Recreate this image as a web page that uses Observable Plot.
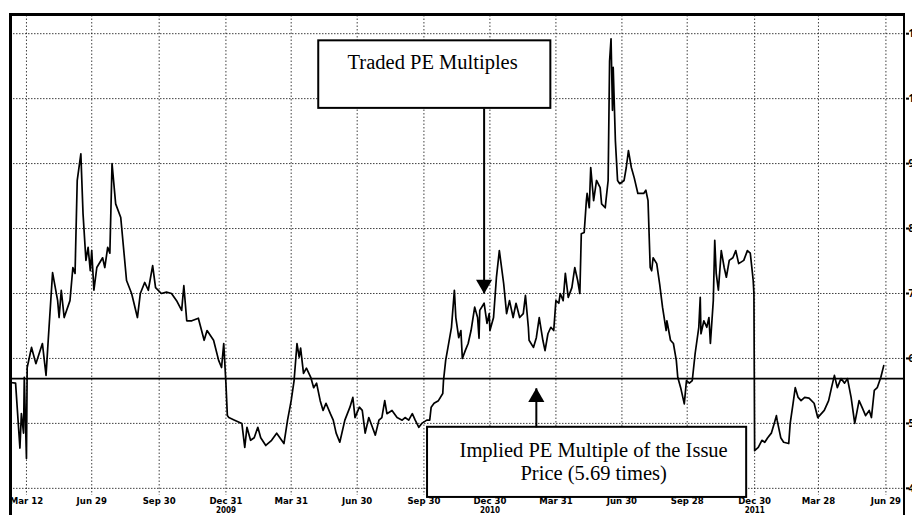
<!DOCTYPE html>
<html>
<head>
<meta charset="utf-8">
<script src="https://cdn.jsdelivr.net/npm/d3@7"></script>
<script src="https://cdn.jsdelivr.net/npm/@observablehq/plot@0.6"></script>
<style>
  html, body { margin: 0; padding: 0; background: #fff; }
  #wrap { position: relative; width: 912px; height: 515px; overflow: hidden; }
  #border { position: absolute; left: 9px; top: 13px; width: 896px; height: 502px;
            border-left: 3px solid #000; border-top: 3px solid #000; border-right: 2px solid #000;
            box-sizing: border-box; pointer-events: none; }
</style>
</head>
<body>
<div id="wrap"><div id="border"></div></div>
<script>
// ---- data ----
const dates = [
"2008-03-09","2008-03-16","2008-03-22","2008-03-24","2008-03-27","2008-03-28","2008-03-31","2008-04-01","2008-04-07","2008-04-13",
"2008-04-22","2008-04-27","2008-04-30","2008-05-06","2008-05-13","2008-05-15","2008-05-18","2008-05-22","2008-05-30","2008-06-03",
"2008-06-06","2008-06-09","2008-06-14","2008-06-17","2008-06-21","2008-06-24","2008-06-27","2008-06-29","2008-07-02","2008-07-06",
"2008-07-14","2008-07-17","2008-07-21","2008-07-24","2008-07-27","2008-08-01","2008-08-08","2008-08-16","2008-08-23","2008-08-31",
"2008-09-04","2008-09-10","2008-09-15","2008-09-21","2008-09-25","2008-10-03","2008-10-10","2008-10-17","2008-10-24","2008-10-31",
"2008-11-03","2008-11-07","2008-11-14","2008-11-23","2008-12-01","2008-12-05","2008-12-14","2008-12-21","2008-12-25","2008-12-28",
"2008-12-31","2009-01-02","2009-01-04","2009-01-12","2009-01-22","2009-01-26","2009-01-29","2009-02-03","2009-02-08","2009-02-13",
"2009-02-17","2009-02-24","2009-03-04","2009-03-11","2009-03-21","2009-03-26","2009-03-31","2009-04-04","2009-04-08","2009-04-11",
"2009-04-13","2009-04-17","2009-04-21","2009-04-27","2009-05-01","2009-05-05","2009-05-10","2009-05-14","2009-05-18","2009-05-24",
"2009-05-28","2009-06-01","2009-06-06","2009-06-13","2009-06-20","2009-06-24","2009-06-27","2009-07-03","2009-07-07","2009-07-11",
"2009-07-16","2009-07-21","2009-07-25","2009-07-30","2009-08-03","2009-08-07","2009-08-10","2009-08-17","2009-08-24","2009-08-31",
"2009-09-04","2009-09-09","2009-09-14","2009-09-18","2009-09-23","2009-09-27","2009-10-04","2009-10-08","2009-10-10","2009-10-14",
"2009-10-20","2009-10-26","2009-10-27","2009-10-30","2009-11-02","2009-11-07","2009-11-11","2009-11-13","2009-11-17","2009-11-20",
"2009-11-22","2009-11-26","2009-11-30","2009-12-04","2009-12-09","2009-12-13","2009-12-15","2009-12-16","2009-12-22","2009-12-26",
"2009-12-29","2009-12-30","2010-01-04","2010-01-08","2010-01-12","2010-01-18","2010-01-22","2010-01-26","2010-01-31","2010-02-04",
"2010-02-09","2010-02-14","2010-02-17","2010-02-21","2010-02-22","2010-02-28","2010-03-04","2010-03-08","2010-03-13","2010-03-16",
"2010-03-20","2010-03-24","2010-03-28","2010-03-31","2010-04-04","2010-04-06","2010-04-10","2010-04-13","2010-04-17","2010-04-22",
"2010-04-26","2010-04-30","2010-05-03","2010-05-05","2010-05-09","2010-05-12","2010-05-13","2010-05-16","2010-05-18","2010-05-22",
"2010-05-26","2010-05-31","2010-06-02","2010-06-07","2010-06-08","2010-06-11","2010-06-13","2010-06-15","2010-06-17","2010-06-18",
"2010-06-21","2010-06-24","2010-06-27","2010-07-03","2010-07-06","2010-07-09","2010-07-13","2010-07-17","2010-07-22","2010-07-26",
"2010-07-30","2010-08-02","2010-08-05","2010-08-08","2010-08-10","2010-08-12","2010-08-17","2010-08-21","2010-08-25","2010-08-30",
"2010-08-31","2010-09-05","2010-09-09","2010-09-13","2010-09-15","2010-09-19","2010-09-24","2010-09-27","2010-10-01","2010-10-05",
"2010-10-09","2010-10-14","2010-10-16","2010-10-17","2010-10-21","2010-10-25","2010-10-28","2010-10-30","2010-11-03","2010-11-05",
"2010-11-07","2010-11-10","2010-11-14","2010-11-18","2010-11-21","2010-11-25","2010-11-30","2010-12-04","2010-12-08","2010-12-15",
"2010-12-20","2010-12-24","2010-12-27","2010-12-28","2010-12-29","2010-12-30","2011-01-04","2011-01-09","2011-01-13","2011-01-17",
"2011-01-22","2011-01-26","2011-01-29","2011-01-30","2011-02-04","2011-02-08","2011-02-15","2011-02-17","2011-02-21","2011-02-24",
"2011-02-28","2011-03-04","2011-03-09","2011-03-15","2011-03-22","2011-03-27","2011-04-01","2011-04-05","2011-04-11","2011-04-15",
"2011-04-19","2011-04-23","2011-04-28","2011-05-03","2011-05-07","2011-05-12","2011-05-17","2011-05-23","2011-05-27","2011-06-01",
"2011-06-06","2011-06-09","2011-06-13","2011-06-17","2011-06-22","2011-06-26"
];
const peValues = [
5.63,5.62,4.62,5.15,4.85,5.71,4.46,5.86,6.17,5.92,
6.23,5.74,6.28,7.32,6.89,6.63,7.05,6.63,6.89,7.40,
7.31,8.74,9.15,8.23,7.51,7.71,7.35,7.66,7.05,7.40,
7.55,7.40,7.71,7.62,9.00,8.38,8.17,7.20,7.00,6.63,
7.00,7.17,7.05,7.43,7.09,7.00,7.02,7.00,6.89,6.74,
7.12,6.58,6.58,6.62,6.28,6.43,6.28,5.97,5.86,6.23,
5.62,5.12,5.09,5.05,5.00,4.63,4.94,4.74,4.78,4.94,
4.78,4.66,4.74,4.85,4.69,5.05,5.35,5.66,6.23,6.02,
6.16,5.77,5.85,5.71,5.55,5.62,5.35,5.20,5.31,5.15,
5.05,4.85,4.71,5.05,5.25,5.40,5.09,5.25,5.20,4.85,
5.09,4.94,4.82,5.05,5.09,5.35,5.15,5.20,5.09,5.05,
5.09,5.05,5.15,5.05,4.94,5.00,5.05,5.05,5.25,5.31,
5.35,5.46,5.66,5.97,6.16,6.48,7.05,6.63,6.32,6.43,
6.00,6.12,6.23,6.43,6.79,6.63,6.31,6.74,6.85,6.54,
6.69,6.43,6.63,7.25,7.66,7.15,6.69,6.89,6.63,6.85,
6.63,6.69,6.97,6.48,6.28,6.17,6.32,6.63,6.28,6.12,
6.38,6.48,6.43,6.89,6.85,7.00,6.89,7.31,6.94,7.09,
7.40,7.20,7.00,7.92,7.94,8.43,8.54,8.32,8.94,8.43,
8.74,8.63,8.38,8.32,8.43,8.74,10.58,10.92,9.82,10.48,
9.35,8.74,8.69,8.74,8.94,9.20,8.94,8.78,8.54,8.54,
8.54,8.59,8.43,7.40,7.35,7.55,7.46,7.15,6.79,6.43,
6.58,6.28,6.23,5.97,5.71,5.55,5.30,5.66,5.62,5.66,
6.08,6.48,6.94,6.38,6.58,6.48,6.63,6.23,6.89,7.82,
7.31,7.05,7.66,7.40,7.25,7.51,7.55,7.66,7.46,7.51,
7.66,7.62,7.31,7.20,7.00,4.58,4.63,4.74,4.71,4.78,
4.85,5.00,5.12,5.05,4.78,4.71,4.69,5.00,5.31,5.55,
5.40,5.35,5.40,5.39,5.31,5.09,5.15,5.20,5.35,5.55,
5.74,5.55,5.69,5.62,5.69,5.40,5.00,5.35,5.25,5.12,
5.20,5.09,5.51,5.55,5.71,5.89
];
const issuePE = 5.69;
const yTicks = [4, 5, 6, 7, 8, 9, 10, 11];
const xTickDates = ["2008-03-31","2008-06-29","2008-09-30","2008-12-31","2009-03-31","2009-06-30","2009-09-30",
                    "2009-12-30","2010-03-31","2010-06-30","2010-09-28","2010-12-30","2011-03-28","2011-06-29"];
const xTickLabels = ["Mar 12","Jun 29","Sep 30","Dec 31","Mar 31","Jun 30","Sep 30",
                     "Dec 30","Mar 31","Jun 30","Sep 28","Dec 30","Mar 28","Jun 29"];
const yearDates = ["2008-12-31","2009-12-30","2010-12-30"];
const yearLabels = ["2009","2010","2011"];
const xDomain = ["2008-03-09","2011-07-26"];
const yDomain = [3.89, 11.28];

// annotations (data coordinates)
const topBox = {x1: "2009-05-08", x2: "2010-03-24", y1: 9.85, y2: 10.89};
const topText = {x: "2009-10-12", y: 10.55, text: "Traded PE Multiples"};
const topArrow = {x: "2009-12-22", from: 9.85, to: 7.0};
const botBox = {x1: "2009-10-05", x2: "2010-12-19", y1: 3.86, y2: 4.94};
const botText = [{x: "2010-05-22", y: 4.59, text: "Implied PE Multiple of the Issue"},
                 {x: "2010-05-22", y: 4.23, text: "Price (5.69 times)"}];
const botArrow = {x: "2010-03-04", from: 4.94, to: 5.54};

// ---- build ----
const P = d3.utcParse("%Y-%m-%d");
const series = dates.map((d, i) => ({date: P(d), pe: peValues[i]}));
const xTicks = xTickDates.map((d, i) => ({date: P(d), label: xTickLabels[i]}));
const years = yearDates.map((d, i) => ({date: P(d), label: yearLabels[i]}));
const boxes = [topBox, botBox].map(b => ({x1: P(b.x1), x2: P(b.x2), y1: b.y1, y2: b.y2}));
const notes = [topText, ...botText].map(t => ({x: P(t.x), y: t.y, text: t.text}));
const arrows = [topArrow, botArrow].map(a => ({x: P(a.x), from: a.from, to: a.to, down: a.to < a.from}));

const labelFont = "'Liberation Sans Narrow', 'DejaVu Sans Condensed', 'Liberation Sans', sans-serif";
const serif = "'Liberation Serif', 'DejaVu Serif', serif";

const chart = Plot.plot({
  width: 912, height: 515,
  marginTop: 15, marginBottom: 20, marginLeft: 10, marginRight: 7,
  style: {background: "transparent", overflow: "visible"},
  x: {type: "utc", domain: xDomain.map(P), axis: null},
  y: {domain: yDomain, axis: null},
  marks: [
    Plot.ruleY(yTicks, {stroke: "#111", strokeWidth: 1, strokeDasharray: "1.5,1.5", strokeOpacity: 0.8}),
    Plot.ruleX(xTicks, {x: "date", stroke: "#111", strokeWidth: 1, strokeDasharray: "1.5,2", strokeOpacity: 0.8}),
    Plot.ruleY([issuePE], {stroke: "#000", strokeWidth: 1.6}),
    Plot.line(series, {x: "date", y: "pe", stroke: "#000", strokeWidth: 1.7}),
    Plot.axisY({ticks: yTicks, anchor: "right", tickSize: 3, tickPadding: 0, fontSize: 10, fontWeight: "bold", label: null, strokeWidth: 2}),
    Plot.text(xTicks, {x: "date", text: "label", frameAnchor: "bottom", dy: 8, fontSize: 9.5, fontWeight: "bold", fontFamily: labelFont, fill: "#000"}),
    Plot.text(years, {x: "date", text: "label", frameAnchor: "bottom", dy: 17, fontSize: 8, fontWeight: "bold", fontFamily: labelFont, fill: "#000"}),
    // annotation boxes
    Plot.rect(boxes, {x1: "x1", x2: "x2", y1: "y1", y2: "y2", fill: "#fff", stroke: "#000", strokeWidth: 2}),
    Plot.text(notes, {x: "x", y: "y", text: "text", fontSize: 20.5, fontFamily: serif, fill: "#000"}),
    // arrows: shaft + filled triangle head
    Plot.link(arrows, {x1: "x", x2: "x", y1: "from", y2: "to", stroke: "#000", strokeWidth: 2}),
    Plot.dot(arrows.filter(a => a.down), {x: "x", y: "to", symbol: "triangle", rotate: 180, r: 6, fill: "#000", stroke: "none", dy: -9}),
    Plot.dot(arrows.filter(a => !a.down), {x: "x", y: "to", symbol: "triangle", rotate: 0, r: 6, fill: "#000", stroke: "none", dy: 9})
  ]
});
document.getElementById("wrap").prepend(chart);
</script>
</body>
</html>
